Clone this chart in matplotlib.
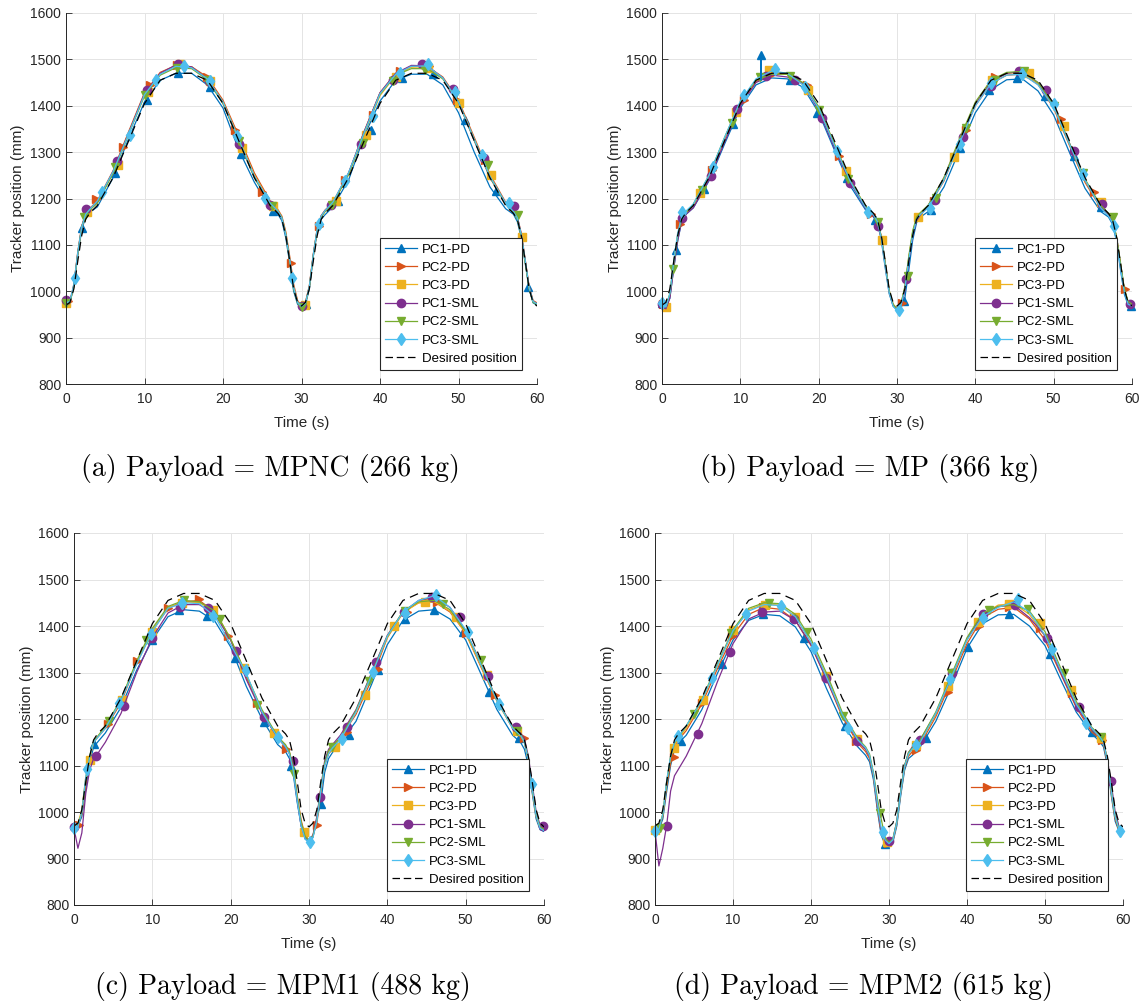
import matplotlib
matplotlib.use("Agg")
import matplotlib.pyplot as plt
from matplotlib.lines import Line2D

plt.rcParams["font.family"] = "Liberation Sans"

# time grid shared by the traces (s)
t = [0, 0.5, 1, 1.5, 2, 2.5, 3,
     4, 6, 8, 10, 12, 14, 16, 18, 20, 22, 24, 26,
     27, 27.5, 28, 28.5, 29, 29.5, 30, 30.5, 31, 31.5, 32, 32.5, 33,
     34, 36, 38, 40, 42, 44, 46, 48, 50, 52, 54, 56,
     57, 57.5, 58, 58.5, 59, 59.5, 60]

desired = [970, 976, 1005, 1065, 1120, 1155, 1168,
           1185, 1245, 1325, 1405, 1455, 1470, 1470, 1455, 1405, 1325, 1245, 1185,
           1168, 1155, 1120, 1065, 1005, 976, 968, 976, 1005, 1065, 1120, 1155, 1168,
           1185, 1245, 1325, 1405, 1455, 1470, 1470, 1455, 1405, 1325, 1245, 1185,
           1168, 1155, 1120, 1065, 1005, 976, 968]

# ---------------- (a) MPNC ----------------
a_pc1_pd = [975, 976, 1010, 1078, 1132, 1160, 1170,
            1182, 1245, 1330, 1408, 1455, 1470, 1470, 1445, 1395, 1305, 1235, 1178,
            1166, 1152, 1115, 1060, 1000, 972, 966, 972, 1005, 1075, 1128, 1155, 1165,
            1182, 1240, 1335, 1410, 1455, 1468, 1468, 1445, 1385, 1300, 1225, 1178,
            1166, 1150, 1115, 1060, 1005, 975, 970]
a_pc2_pd = [976, 978, 1015, 1085, 1140, 1168, 1178,
            1195, 1260, 1345, 1428, 1472, 1487, 1484, 1462, 1412, 1335, 1255, 1195,
            1176, 1162, 1128, 1075, 1015, 980, 968, 976, 1012, 1080, 1135, 1163, 1175,
            1192, 1255, 1345, 1428, 1470, 1485, 1485, 1462, 1412, 1332, 1252, 1192,
            1175, 1160, 1125, 1068, 1010, 980, 975]
a_pc3_pd = [975, 977, 1012, 1082, 1136, 1165, 1175,
            1192, 1255, 1340, 1422, 1468, 1486, 1484, 1458, 1408, 1330, 1250, 1192,
            1174, 1160, 1125, 1070, 1010, 978, 968, 975, 1010, 1078, 1132, 1160, 1172,
            1190, 1252, 1340, 1422, 1466, 1483, 1484, 1460, 1408, 1328, 1248, 1190,
            1173, 1158, 1120, 1065, 1008, 978, 973]
a_pc1_sml = [980, 978, 1012, 1082, 1138, 1168, 1176,
             1192, 1258, 1342, 1426, 1470, 1488, 1484, 1458, 1405, 1325, 1245, 1190,
             1172, 1158, 1122, 1068, 1008, 976, 967, 974, 1010, 1078, 1133, 1162, 1174,
             1190, 1255, 1345, 1428, 1470, 1487, 1486, 1460, 1408, 1325, 1245, 1190,
             1174, 1160, 1122, 1066, 1008, 978, 973]
a_pc2_sml = [975, 976, 1010, 1080, 1138, 1166, 1175,
             1190, 1255, 1340, 1422, 1466, 1482, 1480, 1456, 1405, 1325, 1245, 1188,
             1172, 1158, 1122, 1065, 1005, 975, 964, 972, 1008, 1076, 1132, 1160, 1172,
             1188, 1252, 1342, 1425, 1466, 1480, 1480, 1458, 1408, 1326, 1246, 1188,
             1170, 1155, 1120, 1062, 1005, 976, 972]
a_pc3_sml = [975, 978, 1015, 1083, 1138, 1166, 1176,
             1195, 1258, 1340, 1424, 1468, 1485, 1482, 1458, 1408, 1328, 1248, 1190,
             1173, 1158, 1122, 1068, 1008, 976, 967, 974, 1010, 1078, 1134, 1162, 1174,
             1192, 1256, 1342, 1426, 1468, 1485, 1486, 1460, 1408, 1328, 1248, 1190,
             1172, 1158, 1122, 1066, 1008, 978, 973]

a_pc1_pd_mt = [0, 2.1, 6.3, 10.3, 14.3, 18.3, 22.3, 26.4, 30.6, 34.6, 38.8, 42.8, 46.8, 50.8, 54.8, 58.9]
a_pc1_pd_mv = [978, 1136, 1256, 1413, 1470, 1440, 1297, 1172, 972, 1194, 1348, 1460, 1469, 1370, 1217, 1010]
a_pc2_pd_mt = [0.2, 3.8, 7.3, 10.7, 14.2, 17.9, 21.5, 25.0, 28.7, 32.2, 35.6, 39.1, 42.6, 46.2, 49.8, 53.4, 56.9]
a_pc2_pd_mv = [978, 1199, 1312, 1445, 1487, 1463, 1348, 1215, 1061, 1141, 1240, 1381, 1474, 1485, 1413, 1284, 1183]
a_pc3_pd_mt = [0, 2.7, 6.6, 10.5, 14.5, 18.4, 22.4, 26.4, 30.4, 34.4, 38.2, 42.1, 46.1, 50.1, 54.1, 58.1]
a_pc3_pd_mv = [975, 1170, 1272, 1430, 1489, 1453, 1309, 1183, 971, 1194, 1338, 1463, 1481, 1406, 1250, 1118]
a_pc1_sml_mt = [0, 2.6, 6.5, 10.3, 14.3, 18.2, 22.0, 26.0, 30.0, 33.8, 37.6, 41.6, 45.4, 49.3, 53.3, 57.1]
a_pc1_sml_mv = [982, 1178, 1280, 1433, 1491, 1453, 1317, 1187, 968, 1185, 1318, 1455, 1489, 1436, 1287, 1184]
a_pc2_sml_mt = [0, 2.3, 6.2, 10.1, 14.1, 18.0, 22.1, 26.2, 30.0, 33.9, 37.8, 41.6, 45.7, 49.6, 53.7, 57.6]
a_pc2_sml_mv = [975, 1161, 1267, 1424, 1481, 1455, 1323, 1183, 965, 1185, 1320, 1453, 1478, 1424, 1273, 1165]
a_pc3_sml_mt = [1.1, 4.6, 8.1, 11.5, 15.0, 18.4, 21.8, 25.4, 28.8, 32.2, 35.6, 39.1, 42.6, 46.1, 49.6, 53.0, 56.4]
a_pc3_sml_mv = [1028, 1213, 1338, 1456, 1485, 1453, 1334, 1201, 1028, 1146, 1237, 1377, 1471, 1489, 1429, 1294, 1190]

# ---------------- (b) MP ----------------
b_pc1_pd = [975, 965, 985, 1050, 1108, 1150, 1165,
            1180, 1238, 1318, 1395, 1445, 1460, 1458, 1440, 1385, 1305, 1228, 1175,
            1160, 1148, 1110, 1050, 995, 968, 960, 968, 985, 1045, 1110, 1148, 1160,
            1172, 1225, 1305, 1385, 1435, 1456, 1458, 1432, 1380, 1300, 1222, 1172,
            1160, 1145, 1110, 1050, 995, 970, 968]
b_pc2_pd = [972, 965, 990, 1060, 1120, 1155, 1168,
            1185, 1245, 1328, 1405, 1452, 1468, 1468, 1448, 1395, 1315, 1238, 1180,
            1165, 1152, 1118, 1058, 1000, 970, 962, 972, 1005, 1070, 1125, 1155, 1166,
            1182, 1238, 1322, 1400, 1448, 1466, 1468, 1446, 1395, 1315, 1235, 1180,
            1166, 1152, 1118, 1060, 1005, 975, 970]
b_pc3_pd = [972, 966, 992, 1062, 1122, 1156, 1168,
            1186, 1248, 1330, 1408, 1455, 1472, 1470, 1445, 1395, 1318, 1240, 1182,
            1165, 1150, 1115, 1060, 1000, 972, 963, 972, 1008, 1072, 1128, 1158, 1168,
            1185, 1242, 1325, 1405, 1452, 1470, 1472, 1448, 1398, 1318, 1238, 1182,
            1166, 1152, 1118, 1062, 1005, 975, 970]
b_pc1_sml = [973, 962, 985, 1050, 1110, 1150, 1165,
             1180, 1240, 1322, 1400, 1450, 1466, 1462, 1448, 1390, 1310, 1235, 1178,
             1162, 1148, 1115, 1058, 1000, 970, 960, 968, 1000, 1065, 1120, 1152, 1165,
             1185, 1245, 1325, 1405, 1452, 1470, 1474, 1450, 1400, 1320, 1240, 1182,
             1165, 1152, 1118, 1062, 1005, 975, 973]
b_pc2_sml = [972, 966, 995, 1060, 1120, 1155, 1168,
             1188, 1250, 1332, 1408, 1455, 1468, 1468, 1450, 1398, 1318, 1240, 1182,
             1166, 1152, 1118, 1060, 1002, 972, 962, 972, 1010, 1075, 1130, 1160, 1170,
             1186, 1245, 1330, 1408, 1455, 1472, 1474, 1450, 1402, 1320, 1242, 1185,
             1168, 1155, 1120, 1065, 1008, 978, 972]
b_pc3_sml = [975, 966, 995, 1065, 1125, 1160, 1172,
             1188, 1250, 1332, 1410, 1458, 1475, 1470, 1445, 1395, 1315, 1238, 1180,
             1165, 1150, 1115, 1055, 998, 968, 958, 968, 1005, 1068, 1122, 1155, 1166,
             1180, 1240, 1320, 1400, 1448, 1466, 1468, 1445, 1398, 1318, 1240, 1180,
             1162, 1148, 1112, 1055, 1000, 972, 968]

b_pc1_pd_mt = [0, 1.8, 5.4, 9.0, 12.65, 16.3, 19.8, 23.6, 27.2, 30.9, 34.4, 38.1, 41.7, 45.3, 48.9, 52.6, 56.1, 59.9]
b_pc1_pd_mv = [975, 1088, 1220, 1360, 1510, 1456, 1384, 1244, 1154, 978, 1176, 1309, 1433, 1460, 1422, 1292, 1182, 969]
b_pc2_pd_mt = [0.1, 2.3, 6.4, 10.5, 14.3, 18.5, 22.6, 26.7, 30.7, 34.7, 38.8, 42.5, 46.7, 50.9, 55.1, 59.1]
b_pc2_pd_mv = [972, 1146, 1262, 1413, 1471, 1445, 1292, 1166, 975, 1194, 1348, 1462, 1472, 1371, 1215, 1005]
b_pc3_pd_mt = [0.5, 4.8, 9.4, 13.6, 18.7, 23.5, 28.1, 32.7, 37.3, 42.1, 46.8, 51.3, 56.1]
b_pc3_pd_mv = [966, 1212, 1386, 1478, 1433, 1259, 1111, 1160, 1289, 1455, 1471, 1356, 1192]
b_pc1_sml_mt = [0, 2.6, 6.2, 9.6, 13.3, 17.0, 20.4, 24.0, 27.6, 31.2, 34.8, 38.4, 42.0, 45.6, 49.0, 52.6, 56.2, 59.8]
b_pc1_sml_mv = [973, 1158, 1249, 1392, 1465, 1456, 1374, 1233, 1141, 1026, 1197, 1333, 1443, 1476, 1435, 1302, 1189, 973]
b_pc2_sml_mt = [1.4, 5.1, 8.9, 12.5, 16.4, 20.1, 23.8, 27.6, 31.4, 35.0, 38.8, 42.5, 46.2, 50.0, 53.8, 57.6]
b_pc2_sml_mv = [1048, 1219, 1363, 1463, 1465, 1391, 1241, 1149, 1033, 1201, 1352, 1456, 1474, 1400, 1255, 1160]
b_pc3_sml_mt = [0, 2.6, 6.5, 10.5, 14.4, 18.3, 22.3, 26.3, 30.2, 34.2, 38.1, 42.0, 46.0, 50.0, 53.8, 57.7]
b_pc3_sml_mv = [975, 1171, 1269, 1424, 1479, 1440, 1302, 1170, 959, 1179, 1318, 1448, 1469, 1404, 1253, 1141]

# glitch of PC1-PD in (b)
b_spike_t = [12.6, 12.65, 12.7]
b_spike_v = [1456, 1510, 1456]

# ---------------- (c) MPM1 ----------------
c_pc1_pd = [968, 970, 990, 1050, 1105, 1140, 1150,
            1170, 1225, 1305, 1370, 1420, 1435, 1432, 1410, 1355, 1270, 1200, 1145,
            1130, 1115, 1080, 1020, 970, 942, 935, 945, 985, 1020, 1085, 1115, 1128,
            1150, 1195, 1275, 1360, 1412, 1432, 1435, 1415, 1370, 1295, 1220, 1165,
            1150, 1135, 1100, 1040, 985, 962, 958]
c_pc2_pd = [968, 972, 995, 1060, 1115, 1150, 1160,
            1180, 1235, 1320, 1390, 1438, 1452, 1455, 1430, 1370, 1290, 1215, 1160,
            1140, 1128, 1095, 1035, 982, 950, 940, 950, 975, 1040, 1100, 1125, 1135,
            1160, 1210, 1285, 1375, 1430, 1450, 1452, 1430, 1385, 1310, 1240, 1180,
            1162, 1150, 1110, 1045, 990, 965, 960]
c_pc3_pd = [965, 975, 1005, 1075, 1115, 1150, 1162,
            1182, 1240, 1322, 1390, 1440, 1452, 1450, 1432, 1372, 1295, 1215, 1160,
            1142, 1128, 1092, 1030, 975, 948, 938, 948, 985, 1050, 1105, 1130, 1140,
            1158, 1215, 1295, 1375, 1428, 1450, 1452, 1432, 1385, 1312, 1238, 1180,
            1165, 1150, 1112, 1048, 992, 966, 962]
c_pc1_sml = [965, 922, 955, 1040, 1090, 1115, 1125,
             1150, 1212, 1300, 1375, 1428, 1446, 1446, 1425, 1370, 1285, 1212, 1160,
             1140, 1125, 1090, 1025, 970, 945, 938, 950, 990, 1050, 1110, 1135, 1145,
             1165, 1220, 1300, 1380, 1430, 1455, 1462, 1440, 1390, 1318, 1240, 1185,
             1170, 1158, 1120, 1060, 1000, 972, 968]
c_pc2_sml = [966, 972, 1000, 1070, 1120, 1152, 1162,
             1185, 1242, 1325, 1395, 1442, 1455, 1452, 1432, 1372, 1295, 1220, 1162,
             1145, 1130, 1095, 1032, 978, 948, 938, 948, 982, 1048, 1105, 1132, 1142,
             1160, 1218, 1298, 1378, 1432, 1452, 1455, 1435, 1388, 1318, 1240, 1182,
             1168, 1152, 1115, 1050, 995, 968, 963]
c_pc3_sml = [965, 968, 1000, 1075, 1118, 1150, 1160,
             1180, 1240, 1318, 1388, 1438, 1450, 1448, 1420, 1360, 1298, 1215, 1160,
             1140, 1125, 1088, 1025, 970, 942, 935, 945, 980, 1045, 1100, 1125, 1138,
             1155, 1215, 1295, 1378, 1430, 1455, 1465, 1440, 1392, 1315, 1240, 1180,
             1165, 1150, 1112, 1050, 992, 965, 960]

c_pc1_pd_mt = [2.6, 6.3, 10.0, 13.4, 17.0, 20.6, 24.2, 27.7, 31.5, 35.1, 38.8, 42.2, 45.9, 49.6, 53.0, 56.8]
c_pc1_pd_mv = [1146, 1237, 1369, 1435, 1422, 1332, 1193, 1098, 1018, 1166, 1306, 1415, 1435, 1388, 1258, 1160]
c_pc2_pd_mt = [0.7, 4.4, 8.1, 12.0, 16.0, 19.7, 23.4, 27.1, 31.0, 34.8, 38.8, 42.5, 46.3, 50.0, 53.7, 57.5]
c_pc2_pd_mv = [972, 1190, 1324, 1438, 1457, 1379, 1235, 1135, 972, 1173, 1307, 1430, 1451, 1385, 1252, 1159]
c_pc3_pd_mt = [2.0, 6.1, 9.9, 13.8, 17.8, 21.7, 25.5, 29.4, 33.3, 37.1, 40.9, 44.8, 48.8, 52.7, 56.5]
c_pc3_pd_mv = [1112, 1240, 1388, 1450, 1434, 1309, 1170, 956, 1140, 1252, 1401, 1451, 1420, 1294, 1175]
c_pc1_sml_mt = [0, 2.8, 6.4, 10.0, 13.5, 17.1, 20.7, 24.3, 27.9, 31.4, 34.9, 38.5, 42.1, 45.7, 49.3, 52.8, 56.4, 59.9]
c_pc1_sml_mv = [967, 1121, 1229, 1375, 1441, 1439, 1347, 1204, 1109, 1033, 1182, 1322, 1431, 1462, 1419, 1292, 1182, 969]
c_pc2_sml_mt = [4.5, 9.2, 14.0, 18.7, 23.4, 28.1, 32.9, 37.6, 42.3, 47.1, 51.9, 56.6]
c_pc2_sml_mv = [1195, 1370, 1455, 1415, 1231, 1082, 1139, 1282, 1433, 1448, 1326, 1175]
c_pc3_sml_mt = [0, 1.6, 5.7, 9.8, 13.8, 17.8, 21.9, 26.0, 30.1, 34.2, 38.2, 42.2, 46.2, 50.3, 54.3, 58.5]
c_pc3_sml_mv = [965, 1092, 1234, 1383, 1449, 1422, 1305, 1162, 936, 1157, 1302, 1429, 1467, 1388, 1233, 1060]

# ---------------- (d) MPM2 ----------------
d_pc1_pd = [960, 962, 985, 1045, 1100, 1135, 1148,
            1165, 1220, 1298, 1370, 1412, 1425, 1422, 1398, 1345, 1265, 1192, 1140,
            1122, 1108, 1070, 1005, 950, 930, 928, 935, 970, 1035, 1090, 1115, 1122,
            1140, 1195, 1270, 1352, 1405, 1424, 1425, 1400, 1358, 1285, 1215, 1168,
            1152, 1140, 1100, 1035, 980, 958, 955]
d_pc2_pd = [962, 965, 990, 1055, 1105, 1140, 1155,
            1175, 1232, 1308, 1380, 1425, 1440, 1436, 1412, 1358, 1285, 1205, 1148,
            1130, 1115, 1078, 1012, 955, 933, 930, 938, 975, 1040, 1095, 1120, 1130,
            1145, 1205, 1282, 1362, 1418, 1436, 1440, 1415, 1370, 1298, 1225, 1172,
            1158, 1145, 1105, 1040, 985, 960, 958]
d_pc3_pd = [962, 966, 995, 1065, 1118, 1142, 1158,
            1180, 1238, 1315, 1390, 1435, 1447, 1445, 1420, 1365, 1292, 1210, 1152,
            1135, 1120, 1082, 1015, 958, 936, 933, 940, 978, 1045, 1100, 1125, 1135,
            1150, 1210, 1290, 1370, 1425, 1445, 1448, 1425, 1378, 1305, 1232, 1178,
            1162, 1150, 1110, 1045, 990, 962, 960]
d_pc1_sml = [960, 884, 922, 972, 1045, 1078, 1092,
             1120, 1190, 1280, 1362, 1415, 1430, 1432, 1412, 1360, 1285, 1210, 1152,
             1135, 1120, 1082, 1015, 958, 938, 935, 942, 980, 1045, 1100, 1128, 1140,
             1155, 1212, 1290, 1372, 1425, 1442, 1445, 1418, 1380, 1300, 1228, 1178,
             1162, 1150, 1112, 1060, 1000, 968, 962]
d_pc2_sml = [963, 966, 995, 1065, 1118, 1148, 1160,
             1185, 1242, 1318, 1392, 1438, 1450, 1448, 1425, 1372, 1298, 1215, 1158,
             1140, 1125, 1085, 1030, 985, 945, 935, 942, 980, 1045, 1100, 1128, 1138,
             1155, 1215, 1295, 1375, 1428, 1442, 1446, 1432, 1388, 1310, 1238, 1182,
             1165, 1152, 1112, 1048, 992, 963, 960]
d_pc3_sml = [960, 963, 995, 1068, 1120, 1150, 1163,
             1185, 1240, 1315, 1390, 1432, 1446, 1444, 1420, 1365, 1290, 1210, 1155,
             1138, 1122, 1082, 1020, 965, 940, 932, 940, 978, 1042, 1098, 1125, 1136,
             1150, 1212, 1290, 1370, 1420, 1440, 1452, 1430, 1380, 1305, 1232, 1180,
             1162, 1150, 1110, 1045, 990, 962, 958]

d_pc1_pd_mt = [3.3, 8.6, 13.8, 19.1, 24.3, 29.5, 34.8, 40.1, 45.4, 50.7, 56.0]
d_pc1_pd_mv = [1152, 1319, 1426, 1375, 1184, 931, 1160, 1354, 1426, 1340, 1171]
d_pc2_pd_mt = [2.4, 6.0, 9.9, 13.8, 17.8, 21.9, 25.8, 29.9, 33.4, 37.5, 41.5, 45.4, 49.4, 53.4, 57.3]
d_pc2_pd_mv = [1118, 1234, 1379, 1440, 1420, 1292, 1153, 933, 1134, 1259, 1401, 1440, 1395, 1255, 1155]
d_pc3_pd_mt = [0, 2.4, 6.2, 10.0, 14.1, 18.0, 21.9, 25.9, 29.8, 33.5, 37.5, 41.4, 45.4, 49.4, 53.3, 57.2]
d_pc3_pd_mv = [962, 1137, 1240, 1391, 1446, 1419, 1293, 1157, 936, 1144, 1271, 1408, 1447, 1406, 1263, 1159]
d_pc1_sml_mt = [1.5, 5.5, 9.6, 13.7, 17.8, 21.9, 25.9, 30.0, 34.0, 38.1, 42.1, 46.1, 50.3, 54.3, 58.4]
d_pc1_sml_mv = [970, 1168, 1345, 1430, 1415, 1288, 1153, 938, 1155, 1300, 1426, 1445, 1375, 1225, 1066]
d_pc2_sml_mt = [0.7, 5.0, 9.8, 14.6, 19.5, 24.1, 28.8, 33.4, 38.0, 42.8, 47.8, 52.4, 57.2]
d_pc2_sml_mv = [966, 1211, 1385, 1449, 1388, 1207, 997, 1140, 1299, 1435, 1436, 1300, 1162]
d_pc3_sml_mt = [0, 3.0, 7.3, 11.7, 16.1, 20.4, 24.8, 29.2, 33.5, 37.8, 42.1, 46.5, 50.9, 55.2, 59.6]
d_pc3_sml_mv = [960, 1164, 1289, 1426, 1444, 1353, 1180, 956, 1144, 1286, 1417, 1457, 1350, 1191, 960]

names = ["PC1-PD", "PC2-PD", "PC3-PD", "PC1-SML", "PC2-SML", "PC3-SML"]
colors = ["#0072BD", "#D95319", "#EDB120", "#7E2F8E", "#77AC30", "#4DBEEE"]
markers = ["^", ">", "s", "o", "v", "d"]
msizes = [6, 6, 5.5, 6, 6, 6.5]

captions = ["(a) Payload = MPNC (266 kg)", "(b) Payload = MP (366 kg)",
            "(c) Payload = MPM1 (488 kg)", "(d) Payload = MPM2 (615 kg)"]

W, H = 1142, 1002
INK = "#262626"

panels = [
    ([a_pc1_pd, a_pc2_pd, a_pc3_pd, a_pc1_sml, a_pc2_sml, a_pc3_sml],
     [(a_pc1_pd_mt, a_pc1_pd_mv), (a_pc2_pd_mt, a_pc2_pd_mv), (a_pc3_pd_mt, a_pc3_pd_mv),
      (a_pc1_sml_mt, a_pc1_sml_mv), (a_pc2_sml_mt, a_pc2_sml_mv), (a_pc3_sml_mt, a_pc3_sml_mv)]),
    ([b_pc1_pd, b_pc2_pd, b_pc3_pd, b_pc1_sml, b_pc2_sml, b_pc3_sml],
     [(b_pc1_pd_mt, b_pc1_pd_mv), (b_pc2_pd_mt, b_pc2_pd_mv), (b_pc3_pd_mt, b_pc3_pd_mv),
      (b_pc1_sml_mt, b_pc1_sml_mv), (b_pc2_sml_mt, b_pc2_sml_mv), (b_pc3_sml_mt, b_pc3_sml_mv)]),
    ([c_pc1_pd, c_pc2_pd, c_pc3_pd, c_pc1_sml, c_pc2_sml, c_pc3_sml],
     [(c_pc1_pd_mt, c_pc1_pd_mv), (c_pc2_pd_mt, c_pc2_pd_mv), (c_pc3_pd_mt, c_pc3_pd_mv),
      (c_pc1_sml_mt, c_pc1_sml_mv), (c_pc2_sml_mt, c_pc2_sml_mv), (c_pc3_sml_mt, c_pc3_sml_mv)]),
    ([d_pc1_pd, d_pc2_pd, d_pc3_pd, d_pc1_sml, d_pc2_sml, d_pc3_sml],
     [(d_pc1_pd_mt, d_pc1_pd_mv), (d_pc2_pd_mt, d_pc2_pd_mv), (d_pc3_pd_mt, d_pc3_pd_mv),
      (d_pc1_sml_mt, d_pc1_sml_mv), (d_pc2_sml_mt, d_pc2_sml_mv), (d_pc3_sml_mt, d_pc3_sml_mv)]),
]

# axes boxes in pixels (left, top, width, height) and caption anchors (x, baseline)
boxes = [(66, 13, 471, 371), (662, 13, 470, 371), (74, 533, 470, 372), (655, 533, 468, 372)]
cap_pos = [(270, 476), (870, 476), (283, 994), (863, 994)]

fig = plt.figure(figsize=(W / 100, H / 100), dpi=100)

axes = []
for (lines, marks), (x0, y0, w, h), cap, (cx, cy) in zip(panels, boxes, captions, cap_pos):
    ax = fig.add_axes([x0 / W, 1 - (y0 + h) / H, w / W, h / H])
    axes.append(ax)
    for vals, (mt, mv), c, m, s in zip(lines, marks, colors, markers, msizes):
        ax.plot(t, vals, color=c, lw=0.9)
        ax.plot(mt, mv, ls="none", marker=m, ms=s, color=c, clip_on=False)
    ax.plot(t, desired, color="k", lw=0.9, ls=(0, (7, 4.5)))

    ax.set_xlim(0, 60)
    ax.set_ylim(800, 1600)
    ax.set_xticks(range(0, 61, 10))
    ax.set_yticks(range(800, 1601, 100))
    ax.grid(True, color="#e4e4e4", lw=0.7)
    ax.set_axisbelow(True)
    for side in ("top", "right"):
        ax.spines[side].set_visible(False)
    for side in ("left", "bottom"):
        ax.spines[side].set_color(INK)
        ax.spines[side].set_linewidth(0.7)
    ax.tick_params(direction="in", length=4, width=0.6, colors=INK, labelsize=10)
    ax.tick_params(axis="x", pad=5.5)
    ax.tick_params(axis="y", pad=3.5)
    ax.set_xlabel("Time (s)", fontsize=11, color=INK)
    ax.set_ylabel("Tracker position (mm)", fontsize=11, color=INK)
    ax.xaxis.set_label_coords(0.5, -0.086)
    ax.yaxis.set_label_coords(-0.086, 0.5)

    handles = [Line2D([], [], color=c, marker=m, ms=s, lw=0.9, label=n)
               for c, m, s, n in zip(colors, markers, msizes, names)]
    handles.append(Line2D([], [], color="k", lw=0.9, ls=(0, (6, 3)), label="Desired position"))
    leg = ax.legend(handles=handles, loc="lower right",
                    bbox_to_anchor=(1 - 15 / w, 14 / h), borderaxespad=0,
                    fontsize=9.5, handlelength=2.4, handletextpad=0.4,
                    labelspacing=0.45, borderpad=0.4, fancybox=False,
                    framealpha=1, edgecolor=INK)
    leg.get_frame().set_linewidth(0.8)

    fig.text(cx / W, 1 - cy / H, cap, ha="center", va="baseline",
             fontsize=20, family="cmr10")

# short glitch of PC1-PD in panel (b)
axes[1].plot(b_spike_t, b_spike_v, color=colors[0], lw=0.9)

fig.savefig("out.png", dpi=100)
